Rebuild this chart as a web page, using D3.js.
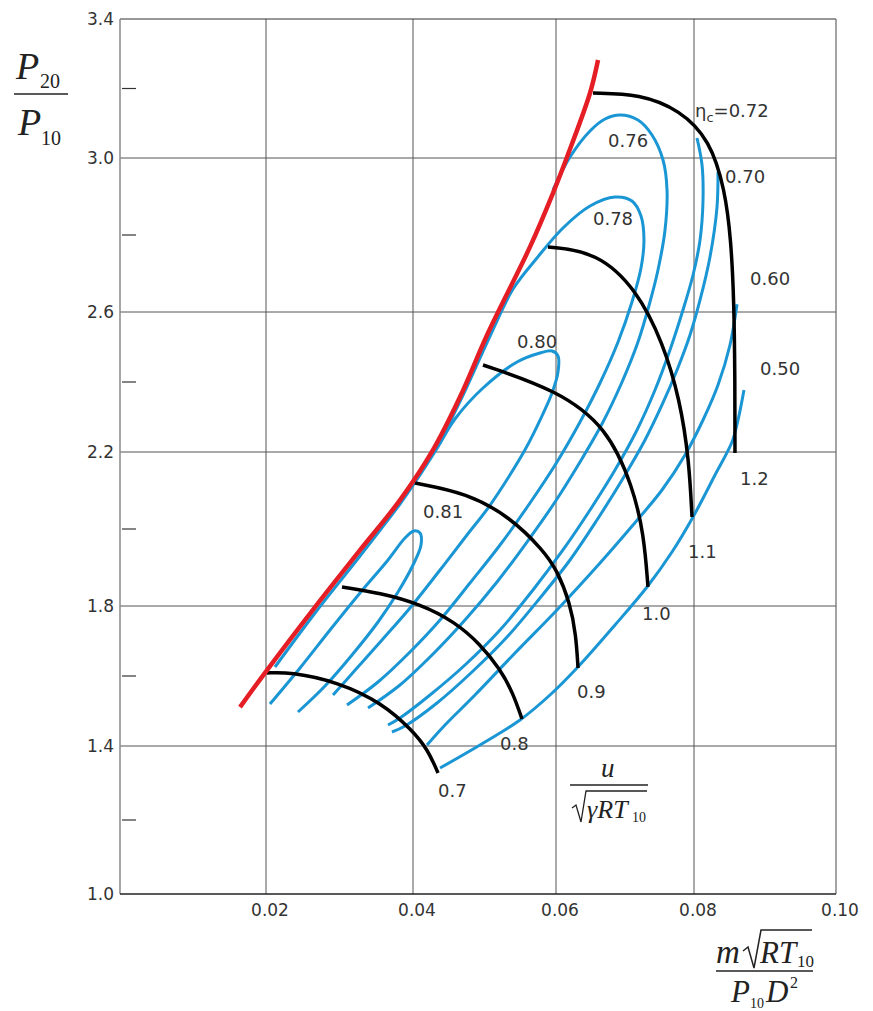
<!DOCTYPE html>
<html><head><meta charset="utf-8">
<script src="https://cdn.jsdelivr.net/npm/d3@7/dist/d3.min.js"></script>
<style>body{margin:0;background:#fff} svg{display:block}</style>
</head><body>
<svg id="c" width="873" height="1011"></svg>
<script>
// ---------- axis data ----------
const xTickValues = [0.02, 0.04, 0.06, 0.08, 0.10];
const xTickLabels = ["0.02", "0.04", "0.06", "0.08", "0.10"];
const yTickValues = [1.0, 1.4, 1.8, 2.2, 2.6, 3.0, 3.4];
const yTickLabels = ["1.0", "1.4", "1.8", "2.2", "2.6", "3.0", "3.4"];
const yMinorTicks = [1.2, 1.6, 2.0, 2.4, 2.8, 3.2];

// ---------- surge line ----------
const surgeLine = [[0.01644,1.511],[0.01986,1.609],[0.02667,1.797],[0.03279,1.945],[0.03823,2.075],[0.0428,2.206],[0.04657,2.357],[0.05049,2.54],[0.05636,2.769],[0.05958,2.909],[0.0616,3.003],[0.06493,3.187],[0.06609,3.282]];

// ---------- speed lines u/sqrt(gamma R T10) ----------
const speedNames = ["0.7", "0.8", "0.9", "1.0", "1.1", "1.2"];
const speed07 = [[0.02014,1.6086],[0.02327,1.6114],[0.0298,1.5829],[0.03578,1.5229],[0.03986,1.4457],[0.0421,1.3892],[0.0435,1.327]];
const speed08 = [[0.03034,1.8494],[0.03551,1.8338],[0.04098,1.8052],[0.04587,1.7543],[0.04937,1.6914],[0.05217,1.62],[0.05399,1.5514],[0.05524,1.4771]];
const speed09 = [[0.04028,2.1195],[0.04755,2.0935],[0.05357,2.0312],[0.05818,1.9455],[0.06014,1.8935],[0.06203,1.8078],[0.0629,1.7171],[0.06319,1.6229]];
const speed10 = [[0.04979,2.4486],[0.06014,2.3771],[0.06739,2.2714],[0.07116,2.1091],[0.07275,1.9844],[0.07333,1.8494]];
const speed11 = [[0.05888,2.7688],[0.06594,2.7558],[0.07174,2.6571],[0.07551,2.5114],[0.07797,2.3486],[0.07928,2.1792],[0.07971,2.0312]];
const speed12 = [[0.06536,3.187],[0.07217,3.1842],[0.07797,3.1381],[0.08225,3.0518],[0.08437,2.9169],[0.08521,2.787],[0.08563,2.6312],[0.08577,2.4057],[0.08577,2.1974]];
const speedLines = [speed07, speed08, speed09, speed10, speed11, speed12];

// ---------- efficiency contours eta_c ----------
const eff81 = [[0.02054,1.52],[0.02463,1.6229],[0.02871,1.7314],[0.03279,1.8338],[0.0366,1.9195],[0.03891,1.9766],[0.04014,1.9948],[0.04098,1.9896],[0.04112,1.9584],[0.04,1.9065],[0.03796,1.8364],[0.03524,1.7543],[0.0317,1.66],[0.02803,1.5714],[0.02435,1.4971]];
const eff80 = [[0.02122,1.6257],[0.02667,1.78],[0.03279,1.9299],[0.03823,2.0649],[0.0407,2.1325],[0.04322,2.2057],[0.04587,2.2943],[0.04979,2.3829],[0.05455,2.4571],[0.05776,2.4829],[0.05944,2.4886],[0.06029,2.4743],[0.06029,2.4286],[0.05944,2.3686],[0.0579,2.2971],[0.0558,2.2114],[0.05329,2.1325],[0.05049,2.0545],[0.04755,1.9844],[0.04378,1.8935],[0.03959,1.7943],[0.03578,1.7029],[0.03238,1.6229],[0.02912,1.5457]];
const eff78 = [[0.04378,2.2257],[0.04545,2.2971],[0.04727,2.3743],[0.05091,2.5371],[0.05399,2.6597],[0.05734,2.7403],[0.06101,2.8182],[0.06493,2.8753],[0.06855,2.8987],[0.07101,2.8883],[0.07232,2.8494],[0.07275,2.787],[0.07232,2.7143],[0.07101,2.626],[0.06899,2.5143],[0.06638,2.3971],[0.06348,2.2857],[0.06014,2.174],[0.05636,2.0675],[0.05217,1.9584],[0.04797,1.8597],[0.04378,1.76],[0.03959,1.6686],[0.03524,1.5829],[0.03102,1.5171]];
const eff76 = [[0.05958,2.9169],[0.06203,3.0029],[0.06493,3.0777],[0.0671,3.1122],[0.06928,3.1237],[0.07188,3.1094],[0.07391,3.0662],[0.07551,2.9948],[0.07609,2.9169],[0.0758,2.813],[0.07478,2.7091],[0.07362,2.626],[0.07188,2.5143],[0.06957,2.4],[0.06681,2.2857],[0.06348,2.174],[0.05986,2.0701],[0.05594,1.9662],[0.05175,1.8623],[0.04727,1.76],[0.04266,1.66],[0.03823,1.5743],[0.03388,1.5086]];
const eff72 = [[0.08042,3.0576],[0.08113,2.9818],[0.08127,2.8909],[0.08085,2.787],[0.07986,2.6961],[0.07841,2.6057],[0.07652,2.4914],[0.07435,2.3771],[0.07174,2.2629],[0.06855,2.1532],[0.06493,2.0494],[0.06101,1.9455],[0.05678,1.8416],[0.05217,1.7314],[0.04727,1.6314],[0.04238,1.5457],[0.03823,1.48],[0.0366,1.46]];
const eff70 = [[0.08338,2.9636],[0.08324,2.8727],[0.08225,2.7429],[0.08085,2.6312],[0.07942,2.5343],[0.07754,2.4343],[0.07536,2.3343],[0.0729,2.2343],[0.06957,2.1273],[0.06594,2.0234],[0.06203,1.9195],[0.05776,1.8208],[0.05315,1.7114],[0.04825,1.6114],[0.04336,1.5229],[0.03891,1.4571],[0.03714,1.44]];
const eff60 = [[0.08606,2.62],[0.08507,2.5057],[0.08338,2.3914],[0.08127,2.2914],[0.0787,2.1922],[0.07536,2.1013],[0.07116,2.0104],[0.06638,1.9117],[0.06014,1.7886],[0.05427,1.6657],[0.04867,1.5457],[0.04448,1.46],[0.04196,1.4029]];
const eff50 = [[0.08704,2.3771],[0.0862,2.2914],[0.08535,2.2286],[0.08296,2.1403],[0.07986,2.0312],[0.07681,1.9403],[0.07319,1.8494],[0.06855,1.7457],[0.06304,1.6229],[0.05916,1.5457],[0.05497,1.4743],[0.04937,1.4029],[0.04378,1.3405]];
const effLines = [eff81, eff80, eff78, eff76, eff72, eff70, eff60, eff50];

// efficiency labels (text, anchor in data units)
const effLabelText = ["0.72", "0.76", "0.70", "0.78", "0.60", "0.80", "0.50", "0.81"];
const effLabelX = [0.08014, 0.06754, 0.08437, 0.06536, 0.08789, 0.05455, 0.0893, 0.0414];
const effLabelY = [3.118, 3.0317, 2.935, 2.826, 2.6701, 2.4971, 2.42, 2.0286];

// ---------- layout ----------
const X_DOMAIN = [0, 0.02, 0.04, 0.06, 0.08, 0.10];
const X_RANGE  = [120, 266, 413, 556, 694, 836];
const Y_DOMAIN = [1.0, 1.4, 1.8, 2.2, 2.6, 3.0, 3.4];
const Y_RANGE  = [894, 746, 606, 452, 312, 158, 19];
const x = d3.scaleLinear().domain(X_DOMAIN).range(X_RANGE);
const y = d3.scaleLinear().domain(Y_DOMAIN).range(Y_RANGE);

const svg = d3.select("#c");
const FONT = "'DejaVu Sans', sans-serif";
const SERIF = "'Liberation Serif', 'DejaVu Serif', serif";
const TXT = "#333";

// grid
const g = svg.append("g");
g.selectAll(".vg").data(xTickValues.slice(0, 4)).join("line")
  .attr("x1", d => x(d)).attr("x2", d => x(d))
  .attr("y1", y(3.4)).attr("y2", y(1.0))
  .attr("stroke", "#555").attr("stroke-width", 1);
g.selectAll(".hg").data(yTickValues.slice(1, 6)).join("line")
  .attr("x1", x(0)).attr("x2", x(0.10))
  .attr("y1", d => y(d)).attr("y2", d => y(d))
  .attr("stroke", "#555").attr("stroke-width", 1);
// frame
g.append("line").attr("x1", x(0)).attr("x2", x(0.10)).attr("y1", y(3.4)).attr("y2", y(3.4)).attr("stroke", "#333").attr("stroke-width", 1.2);
g.append("line").attr("x1", x(0.10)).attr("x2", x(0.10)).attr("y1", y(3.4)).attr("y2", y(1.0)).attr("stroke", "#666").attr("stroke-width", 1.2);
g.append("line").attr("x1", x(0)).attr("x2", x(0)).attr("y1", y(3.4)).attr("y2", y(1.0)).attr("stroke", "#888").attr("stroke-width", 1.5);
g.append("line").attr("x1", x(0)).attr("x2", x(0.10)).attr("y1", y(1.0)).attr("y2", y(1.0)).attr("stroke", "#222").attr("stroke-width", 1.5);
// minor ticks
g.selectAll(".mt").data(yMinorTicks).join("line")
  .attr("x1", x(0) + 2).attr("x2", x(0) + 16)
  .attr("y1", d => y(d)).attr("y2", d => y(d))
  .attr("stroke", "#333").attr("stroke-width", 1.2);

// tick labels
svg.selectAll(".xl").data(xTickValues).join("text")
  .attr("x", d => x(d) + 4).attr("y", y(1.0) + 22)
  .attr("text-anchor", "middle").attr("font-family", FONT).attr("font-size", 17)
  .attr("fill", TXT).text((d, i) => xTickLabels[i]);
svg.selectAll(".yl").data(yTickValues).join("text")
  .attr("x", x(0) - 6).attr("y", d => y(d) + 6)
  .attr("text-anchor", "end").attr("font-family", FONT).attr("font-size", 17)
  .attr("fill", TXT).text((d, i) => yTickLabels[i]);

// curves
const smooth = d3.line().x(d => x(d[0])).y(d => y(d[1])).curve(d3.curveBasis);
const thru = d3.line().x(d => x(d[0])).y(d => y(d[1])).curve(d3.curveCatmullRom.alpha(0.5));
const BLUE = "#1a96d4";
svg.append("g").selectAll("path").data(effLines).join("path")
  .attr("d", thru).attr("fill", "none").attr("stroke", BLUE)
  .attr("stroke-width", 3).attr("stroke-linecap", "butt");
svg.append("g").selectAll("path").data(speedLines).join("path")
  .attr("d", smooth).attr("fill", "none").attr("stroke", "#000")
  .attr("stroke-width", 3.5).attr("stroke-linecap", "butt");
svg.append("path").datum(surgeLine).attr("d", thru).attr("fill", "none")
  .attr("stroke", "#e51e25").attr("stroke-width", 4.5);

// speed labels (placed just below each line's end)
const speedLabelDx = [0, -22, -1, -6, -4, 5];
const speedLabelDy = [24, 31, 30, 33, 41, 32];
svg.selectAll(".sl").data(speedLines).join("text")
  .attr("x", (d, i) => x(d[d.length - 1][0]) + speedLabelDx[i])
  .attr("y", (d, i) => y(d[d.length - 1][1]) + speedLabelDy[i])
  .attr("font-family", FONT).attr("font-size", 18).attr("fill", TXT)
  .text((d, i) => speedNames[i]);

// efficiency labels
effLabelText.forEach((t, i) => {
  const tx = svg.append("text").attr("x", x(effLabelX[i])).attr("y", y(effLabelY[i]))
    .attr("font-family", FONT).attr("font-size", 18).attr("fill", TXT);
  if (i === 0) {
    tx.append("tspan").text("η");
    tx.append("tspan").attr("font-size", 13).attr("dy", 5).text("c");
    tx.append("tspan").attr("dy", -5).text("=" + t);
  } else {
    tx.text(t);
  }
});

// ---------- axis titles (math) ----------
function mathText(xp, yp, str, size, italic) {
  return svg.append("text").attr("x", xp).attr("y", yp).attr("font-family", SERIF)
    .attr("font-size", size).attr("font-style", italic ? "italic" : "normal")
    .attr("fill", "#222").text(str);
}
// y title: P20 / P10
mathText(16, 79, "P", 38, true);
mathText(40, 88, "20", 20, false);
svg.append("line").attr("x1", 14).attr("x2", 68).attr("y1", 94).attr("y2", 94).attr("stroke", "#222").attr("stroke-width", 1.5);
mathText(18, 135, "P", 38, true);
mathText(41, 145, "10", 20, false);

// x title: m sqrt(R T10) / (P10 D^2)
mathText(716, 963, "m", 33, true);
svg.append("path").attr("d", "M743,951 L748,947 L754,968 L761,930 L812,930")
  .attr("fill", "none").attr("stroke", "#222").attr("stroke-width", 1.5);
mathText(760, 963, "RT", 31, true);
mathText(797, 967, "10", 17, false);
svg.append("line").attr("x1", 716).attr("x2", 813).attr("y1", 971).attr("y2", 971).attr("stroke", "#222").attr("stroke-width", 1.5);
mathText(731, 1002, "P", 31, true);
mathText(750, 1008, "10", 14, false);
mathText(766, 1002, "D", 31, true);
mathText(790, 988, "2", 16, false);

// speed parameter title: u / sqrt(gamma R T10)
mathText(601, 777, "u", 27, true);
svg.append("line").attr("x1", 570).attr("x2", 648).attr("y1", 785).attr("y2", 785).attr("stroke", "#222").attr("stroke-width", 1.3);
svg.append("path").attr("d", "M572,808 L576,805 L581,822 L586,791 L647,791")
  .attr("fill", "none").attr("stroke", "#222").attr("stroke-width", 1.3);
mathText(587, 818, "γRT", 26, true);
mathText(632, 822, "10", 14, false);
</script>
</body></html>
